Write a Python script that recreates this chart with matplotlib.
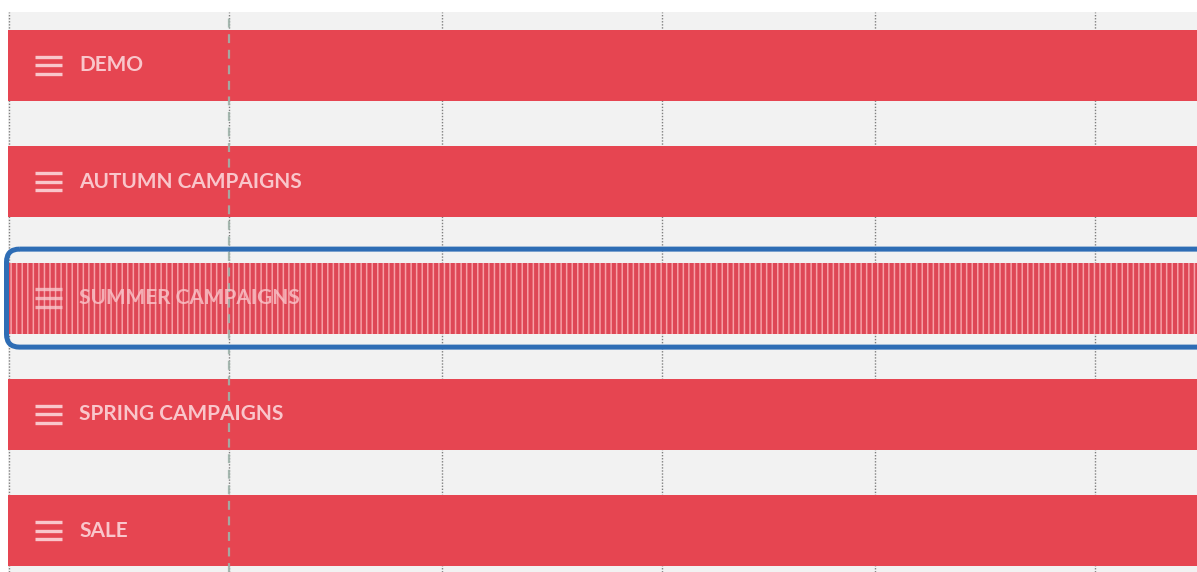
import matplotlib
matplotlib.use("Agg")
import matplotlib.pyplot as plt
import matplotlib.dates as mdates
import matplotlib.transforms as mtransforms
from matplotlib.patches import FancyBboxPatch
import datetime as dt

# ---- data ----
categories = ["DEMO", "AUTUMN CAMPAIGNS", "SUMMER CAMPAIGNS", "SPRING CAMPAIGNS", "SALE"]
bar_starts = ["2023-07-20", "2023-07-20", "2023-07-20", "2023-07-20", "2023-07-20"]
bar_ends = ["2024-02-28", "2024-02-28", "2024-02-28", "2024-02-28", "2024-02-28"]
selected = "SUMMER CAMPAIGNS"
grid_dates = ["2023-08-01", "2023-09-01", "2023-10-01", "2023-11-01", "2023-12-01", "2024-01-01"]
today = "2023-09-01"
view_start = "2023-07-31 20:40"
view_days = 167.5

# ---- style ----
BG = "#f2f2f2"
BAR = "#e64551"
TEXT = "#f9c6cb"
BLUE = "#2e6db5"
STRIPE_LIGHT = "#f7a0a7"
STRIPE_DARK = "#de4756"

plt.rcParams["hatch.linewidth"] = 2.9
plt.rcParams["font.family"] = ["Lato", "DejaVu Sans"]

W, H = 1197, 572
fig = plt.figure(figsize=(W / 100, H / 100), dpi=100)
fig.patch.set_facecolor("white")
ax = fig.add_axes([8 / W, 0, (W - 8) / W, (H - 12) / H])
ax.set_facecolor(BG)

x0 = mdates.date2num(dt.datetime.fromisoformat(view_start))
ax.set_xlim(x0, x0 + view_days)
ax.set_ylim(4.355, -0.46)

rows = list(range(len(categories)))
starts = [mdates.date2num(dt.datetime.fromisoformat(s)) for s in bar_starts]
ends = [mdates.date2num(dt.datetime.fromisoformat(s)) for s in bar_ends]
widths = [e - s for s, e in zip(starts, ends)]

# grid lines
for g in grid_dates:
    gx = mdates.date2num(dt.datetime.fromisoformat(g))
    ax.axvline(gx, color="#7f7f7f", lw=1.0, ls=(0, (1, 1.2)), zorder=1)

bar_h = 0.61
for r, name, s, w in zip(rows, categories, starts, widths):
    if name == selected:
        ax.barh(r, w, left=s, height=bar_h, facecolor=STRIPE_LIGHT,
                edgecolor=STRIPE_DARK, hatch="|||", linewidth=0, zorder=2)
    else:
        ax.barh(r, w, left=s, height=bar_h, color=BAR, linewidth=0, zorder=2)

# today line
tx = mdates.date2num(dt.datetime.fromisoformat(today))
ax.axvline(tx, color="#9fb3aa", lw=1.6, ls=(0, (4, 3)), alpha=0.9, zorder=3)

# labels and hamburger icons
blend = mtransforms.blended_transform_factory(ax.transAxes, ax.transData)
for r, name in zip(rows, categories):
    alpha = 0.8 if name == selected else 1.0
    for dy in (-0.074, 0.0, 0.074):
        ax.plot([27 / 1189, 54 / 1189], [r + dy, r + dy], transform=blend,
                color=TEXT, lw=2.4, solid_capstyle="butt", alpha=alpha, zorder=4)
    ax.text(71 / 1189, r, name, transform=blend, color=TEXT, fontsize=15,
            fontweight="bold", va="center", ha="left", alpha=alpha, zorder=4)

# selection border
sel = categories.index(selected)
px_per_day = 1189 / view_days
px_per_row = 560 / (4.355 + 0.46)
rad_px = 13
box = FancyBboxPatch((x0 - 1.5 / px_per_day, sel - 49 / px_per_row),
                     400, 98 / px_per_row,
                     boxstyle=f"round,pad=0,rounding_size={rad_px / px_per_day}",
                     mutation_aspect=(rad_px / px_per_row) / (rad_px / px_per_day),
                     facecolor="none", edgecolor=BLUE, linewidth=3.6,
                     clip_on=False, zorder=5)
ax.add_patch(box)

for sp in ax.spines.values():
    sp.set_visible(False)
ax.set_xticks([])
ax.set_yticks([])

fig.savefig("out.png", dpi=100, facecolor="white")
